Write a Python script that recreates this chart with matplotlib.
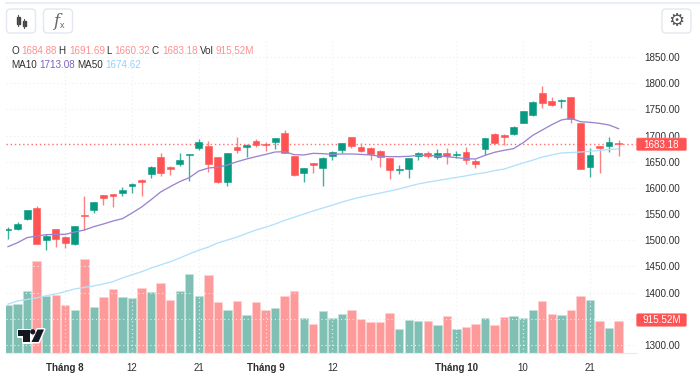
#!/usr/bin/env python3
"""Candlestick chart with MA10/MA50 and volume, TradingView look."""

import matplotlib

matplotlib.use("Agg")
import matplotlib.pyplot as plt
import numpy as np
from matplotlib.patches import Circle, FancyBboxPatch, Polygon, Rectangle

plt.rcParams["font.family"] = ["Liberation Sans", "DejaVu Sans"]

opens = [1520.0, 1520.9, 1540.6, 1562.3, 1501.2, 1521.5, 1505.6, 1492.9, 1547.6, 1557.8,
         1587.0, 1589.0, 1590.3, 1603.6, 1615.1, 1627.2, 1658.4, 1640.6, 1646.3, 1662.2,
         1676.2, 1680.0, 1659.7, 1611.3, 1678.8, 1678.8, 1690.2, 1683.9, 1687.7, 1705.5,
         1661.0, 1629.1, 1647.0, 1638.7, 1661.6, 1671.8, 1696.6, 1678.1, 1676.2, 1671.1,
         1656.5, 1634.2, 1635.5, 1661.6, 1666.0, 1659.7, 1667.3, 1662.2, 1668.0, 1652.0,
         1673.7, 1703.0, 1701.1, 1703.0, 1724.6, 1738.6, 1781.9, 1765.4, 1765.4, 1773.0,
         1723.3, 1640.6, 1679.4, 1680.0, 1684.88]
highs = [1524.7, 1534.0, 1558.4, 1564.8, 1511.3, 1521.5, 1508.2, 1527.3, 1585.2, 1573.0,
         1587.0, 1589.0, 1601.0, 1610.0, 1617.0, 1641.8, 1666.0, 1641.0, 1666.0, 1665.0,
         1693.4, 1689.6, 1659.7, 1667.3, 1696.6, 1684.0, 1694.0, 1687.0, 1696.0, 1710.6,
         1661.0, 1637.4, 1647.0, 1658.5, 1671.0, 1686.0, 1696.6, 1685.0, 1678.8, 1671.5,
         1657.0, 1643.8, 1656.5, 1668.6, 1670.5, 1674.3, 1675.6, 1671.0, 1678.8, 1654.6,
         1695.0, 1704.2, 1703.0, 1718.2, 1747.5, 1766.6, 1794.6, 1773.0, 1769.2, 1773.0,
         1723.3, 1675.6, 1680.0, 1697.9, 1691.69]
lows = [1501.8, 1519.6, 1538.7, 1492.9, 1481.4, 1487.8, 1485.9, 1490.3, 1519.6, 1551.4,
        1566.7, 1563.6, 1585.2, 1589.6, 1585.2, 1618.9, 1622.7, 1624.6, 1642.5, 1613.8,
        1672.4, 1629.8, 1608.7, 1603.7, 1667.3, 1659.7, 1677.5, 1669.9, 1675.0, 1666.0,
        1623.0, 1612.0, 1627.8, 1604.3, 1653.3, 1667.3, 1677.0, 1669.0, 1653.3, 1640.6,
        1616.4, 1626.6, 1618.3, 1653.3, 1656.5, 1654.6, 1645.7, 1657.8, 1645.7, 1638.7,
        1663.5, 1684.0, 1681.3, 1700.4, 1723.3, 1737.3, 1753.3, 1756.4, 1753.3, 1724.6,
        1636.8, 1621.5, 1627.9, 1669.2, 1660.32]
closes = [1521.5, 1530.4, 1557.0, 1492.9, 1507.5, 1502.4, 1494.2, 1527.3, 1545.7, 1573.0,
          1580.7, 1585.0, 1596.6, 1607.5, 1611.3, 1640.6, 1629.1, 1636.1, 1653.9, 1664.8,
          1687.7, 1645.7, 1612.0, 1667.3, 1672.4, 1682.6, 1682.0, 1682.0, 1696.0, 1667.3,
          1624.7, 1637.4, 1643.1, 1657.8, 1668.0, 1685.1, 1680.0, 1670.5, 1664.8, 1658.4,
          1634.2, 1635.5, 1656.5, 1666.0, 1661.0, 1666.0, 1661.0, 1664.8, 1653.3, 1645.0,
          1694.7, 1685.1, 1697.9, 1715.7, 1746.9, 1764.7, 1761.5, 1757.7, 1767.3, 1731.0,
          1636.8, 1662.9, 1676.9, 1687.0, 1683.18]
volumes = [1369, 1388, 1765, 2615, 1605, 1652, 1369, 1218, 2662, 1312,
           1586, 1803, 1576, 1558, 1841, 1728, 1992, 1492, 1765, 2247,
           1624, 2209, 1444, 1218, 1463, 1086, 1454, 1227, 1274, 1624,
           1746, 1001, 831, 1189, 1001, 1114, 1227, 963, 868, 868,
           1133, 670, 944, 916, 906, 802, 1038, 670, 746, 821,
           1001, 802, 1020, 1038, 991, 1227, 1482, 1105, 1086, 1218,
           1624, 1510, 906, 708, 915.52]
ma10 = [1487.8, 1495.4, 1505.0, 1508.2, 1510.7, 1511.3, 1511.3, 1515.8, 1519.6, 1526.0,
        1531.1, 1536.8, 1541.3, 1552.1, 1563.5, 1577.5, 1592.2, 1602.4, 1612.0, 1619.6,
        1632.3, 1638.0, 1639.5, 1643.8, 1650.0, 1655.2, 1659.7, 1664.0, 1668.6, 1669.2,
        1663.5, 1662.9, 1666.0, 1665.4, 1664.0, 1664.8, 1664.8, 1664.0, 1662.9, 1660.3,
        1659.7, 1659.7, 1660.3, 1662.2, 1662.2, 1661.0, 1659.7, 1657.8, 1655.9, 1655.2,
        1662.2, 1668.0, 1671.8, 1675.0, 1686.4, 1700.4, 1710.6, 1720.8, 1729.7, 1732.9,
        1726.5, 1725.3, 1723.3, 1720.2, 1713.08]
ma50 = [1378.0, 1384.0, 1387.0, 1390.0, 1394.0, 1397.5, 1402.0, 1407.0, 1410.0, 1413.0,
        1416.5, 1421.0, 1428.0, 1434.0, 1440.0, 1447.0, 1453.0, 1459.0, 1466.0, 1474.0,
        1481.0, 1487.0, 1495.0, 1500.5, 1506.0, 1513.0, 1519.6, 1525.0, 1531.0, 1538.0,
        1544.0, 1550.0, 1556.0, 1561.6, 1567.0, 1573.0, 1578.0, 1582.7, 1586.5, 1590.0,
        1594.0, 1598.0, 1603.0, 1607.5, 1611.0, 1614.0, 1617.0, 1620.0, 1623.0, 1626.6,
        1629.0, 1633.0, 1636.0, 1642.0, 1647.6, 1653.0, 1659.0, 1663.0, 1666.7, 1667.6,
        1668.6, 1670.0, 1671.5, 1673.3, 1674.62]

price_ticks = [1300, 1350, 1400, 1450, 1500, 1550, 1600, 1650, 1700, 1750, 1800, 1850]
# 1350 sits behind the volume tag in the reference, so no label for it
price_labels = ["1300.00", "", "1400.00", "1450.00", "1500.00", "1550.00", "1600.00",
                "1650.00", "1700.00", "1750.00", "1800.00", "1850.00"]
date_ticks = [6, 13, 20, 27, 34, 47, 54, 61]
date_labels = ["Tháng 8", "12", "21", "Tháng 9", "12", "Tháng 10", "10", "21"]

RED = "#FF5252"
GREEN = "#089981"
RED_VOL = "#FF9A9A"
GREEN_VOL = "#80C0B4"
RED_TEXT = "#FF8E8E"
PURPLE = "#9B84CF"
BLUE = "#B3E0FB"
GRID = "#EDEFF3"
TEXT = "#2E2E2E"
W, H = 700, 380


def main():
    fig = plt.figure(figsize=(W / 100, H / 100), dpi=100, facecolor="white")

    # pane spans px x 6..637, y 38..353
    ax = fig.add_axes([6 / W, 1 - 353 / H, 631 / W, 315 / H])
    ax.set_xlim(-0.21, 65.93)
    ax.set_ylim(1284.7, 1886.3)

    x = np.arange(len(closes))
    o, h, l, c = map(np.array, (opens, highs, lows, closes))
    up = c >= o

    # volume on its own scale, 1 px = 28.3M
    vol_ax = ax.twinx()
    vol_ax.set_ylim(0, 8921)
    vol_ax.axis("off")
    vol_ax.bar(x, volumes, width=0.88, color=[GREEN_VOL if u else RED_VOL for u in up],
               edgecolor=["#C4E2DC" if u else "#FFD0D0" for u in up], linewidth=0.4, zorder=2)

    ax.set_zorder(vol_ax.get_zorder() + 1)
    ax.patch.set_visible(False)

    for s in ax.spines.values():
        s.set_visible(False)
    ax.spines["bottom"].set_visible(True)
    ax.spines["bottom"].set_color("#E8EAEE")
    # twinx moves the ticks to the left, so this has to come after it
    ax.yaxis.tick_right()
    ax.set_yticks(price_ticks)
    ax.set_yticklabels(price_labels, fontsize=7.1, color=TEXT)
    ax.tick_params(axis="y", length=0, pad=5.5)
    ax.set_xticks(date_ticks)
    ax.set_xticklabels(date_labels, fontsize=7, color=TEXT)
    ax.tick_params(axis="x", length=0, pad=7)
    for lab in ax.get_xticklabels():
        if lab.get_text().startswith("Tháng"):
            lab.set_fontweight("bold")
    ax.grid(True, color=GRID, lw=0.8, ls=(0, (1, 2.5)))
    ax.set_axisbelow(True)

    ax.axhline(closes[-1], color="#FF7070", lw=1.0, ls=(0, (1, 2)), zorder=2)
    colors = [GREEN if u else RED for u in up]
    ax.vlines(x, l, h, colors=[("#3FAE9B" if u else "#FF8080") for u in up], lw=1.0, zorder=3)
    ax.bar(x, np.abs(c - o), bottom=np.minimum(o, c), width=0.72, color=colors,
           edgecolor=colors, linewidth=0.4, zorder=4)
    ax.plot(x, ma50, color=BLUE, lw=0.95, zorder=5)
    ax.plot(x, ma10, color=PURPLE, lw=0.95, zorder=5)

    # chrome drawn in pixel coordinates
    ov = fig.add_axes([0, 0, 1, 1], zorder=10)
    ov.set_xlim(0, W)
    ov.set_ylim(H, 0)
    ov.axis("off")
    ov.patch.set_visible(False)

    ov.plot([6, 700], [2.5, 2.5], color="#E9EDF5", lw=1.5)
    for bx in (6.5, 43.5, 662):
        ov.add_patch(FancyBboxPatch((bx, 9), 29, 24, boxstyle="round,pad=0,rounding_size=4",
                                    fc="white", ec="#E3E7EE", lw=1))
    # candle icon
    ov.plot([18, 18], [15, 26], color="#555555", lw=0.8)
    ov.add_patch(Rectangle((16.5, 17), 3, 7, color="#444444"))
    ov.plot([24, 24], [19, 28], color="#555555", lw=0.8)
    ov.add_patch(Rectangle((22.5, 21), 3, 5, color="#444444"))
    ov.text(56, 21, "f", fontsize=12, style="italic", family="DejaVu Serif", color="#666666",
            ha="center", va="center")
    ov.text(62, 26, "x", fontsize=6.5, color="#666666", ha="center", va="center")
    ov.text(676.5, 21, "\u2699", fontsize=13, family="DejaVu Sans", color="#555555",
            ha="center", va="center")

    # legend rows
    row1 = [(11, "O", TEXT), (21.5, f"{opens[-1]}", RED_TEXT), (58.5, "H", TEXT),
            (69, f"{highs[-1]}", RED_TEXT), (106, "L", TEXT), (114, f"{lows[-1]}", RED_TEXT),
            (152, "C", TEXT), (162, f"{closes[-1]}", RED_TEXT), (199.5, "Vol", TEXT),
            (215, "915,52M", RED_TEXT)]
    row2 = [(11, "MA10", TEXT), (39, f"{ma10[-1]}", "#7E61C4"), (77, "MA50", TEXT),
            (105, f"{ma50[-1]}", "#93D2FF")]
    for px, s, col in row1:
        ov.text(px, 50.5, s, fontsize=7.1, color=col, va="center", ha="left")
    for px, s, col in row2:
        ov.text(px, 65, s, fontsize=7.1, color=col, va="center", ha="left")

    # last value tags
    for yc, s in ((144.3, f"{closes[-1]:.2f}"), (320, f"{volumes[-1]:.2f}M")):
        ov.add_patch(FancyBboxPatch((636.5, yc - 6.3), 50, 12.6, boxstyle="round,pad=0,rounding_size=1.5",
                                    fc=RED, ec="#FF8A8A", lw=0.5))
        ov.text(661.5, yc + 0.3, s, fontsize=7.1, color="white", ha="center", va="center")

    # logo
    logo = [[(17.5, 329.5), (29.5, 329.5), (29.5, 342), (23, 342), (23, 335.5), (17.5, 335.5)],
            [(37.5, 329.5), (44, 329.5), (38.5, 342), (31.5, 342)]]
    for pts in logo:
        ov.add_patch(Polygon(pts, closed=True, fc="#131722", ec="white", lw=2.2, joinstyle="round", zorder=6))
        ov.add_patch(Polygon(pts, closed=True, fc="#131722", ec="none", zorder=7))
    ov.add_patch(Circle((32.7, 331.8), 2.6, fc="#131722", ec="none", zorder=7))

    fig.savefig("out.png", dpi=100)
    plt.close(fig)


if __name__ == "__main__":
    main()
